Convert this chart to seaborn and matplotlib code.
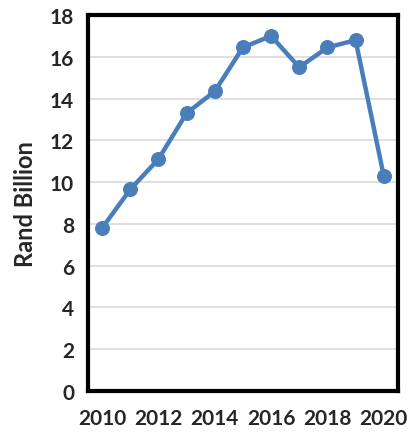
import pandas as pd
import matplotlib
matplotlib.use("Agg")
import matplotlib.pyplot as plt
import seaborn as sns

# Data
years = [2010, 2011, 2012, 2013, 2014, 2015, 2016, 2017, 2018, 2019, 2020]
values = [7.8, 9.65, 11.1, 13.3, 14.35, 16.45, 17.0, 15.5, 16.45, 16.8, 10.3]
x_ticks = [2010, 2012, 2014, 2016, 2018, 2020]
y_ticks = [0, 2, 4, 6, 8, 10, 12, 14, 16, 18]

df = pd.DataFrame({"year": years, "value": values})

sns.set_style("white")
plt.rcParams["font.family"] = ["Lato", "DejaVu Sans"]
plt.rcParams["font.weight"] = "bold"

fig = plt.figure(figsize=(4.12, 4.35), dpi=100)
ax = fig.add_axes([0.2136, 0.099, 0.752, 0.864])

sns.lineplot(data=df, x="year", y="value", ax=ax, color="#4a7ebb",
             linewidth=3.2, marker="o", markersize=10, markeredgecolor="#4a7ebb")

ax.set_xlim(2009.5, 2020.5)
ax.set_ylim(0, 18)
ax.set_xticks(x_ticks)
ax.set_yticks(y_ticks)
ax.tick_params(axis="both", labelsize=15, length=0)
ax.tick_params(axis="x", pad=12)
ax.tick_params(axis="y", pad=10)
for lab in ax.get_xticklabels() + ax.get_yticklabels():
    lab.set_fontweight("bold")
ax.yaxis.grid(True, color="#d9d9d9", linewidth=1.2)
ax.set_axisbelow(True)
for sp in ax.spines.values():
    sp.set_color("black")
    sp.set_linewidth(3)
ax.set_xlabel("")
ax.set_ylabel("Rand Billion", fontsize=17, fontweight="bold", labelpad=9)

fig.savefig("out.png", dpi=100)
